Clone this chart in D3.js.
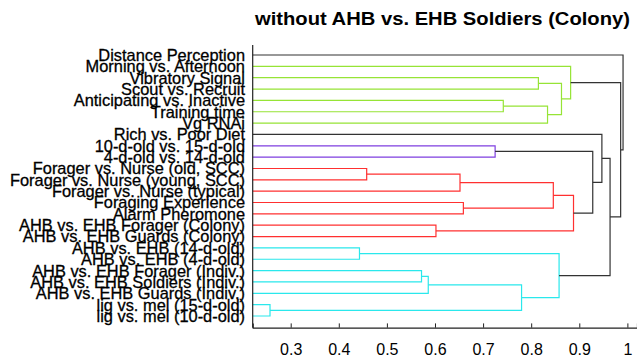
<!DOCTYPE html>
<html>
<head>
<meta charset="utf-8">
<script src="https://cdn.jsdelivr.net/npm/d3@7"></script>
<style>
  body { margin: 0; background: #fff; }
  svg { display: block; }
  text { font-family: "Liberation Sans", Arial, sans-serif; }
</style>
</head>
<body>
<div id="chart"></div>
<script>
// leaves, top to bottom
var leaves = [
  "Distance Perception", "Morning vs. Afternoon", "Vibratory Signal", "Scout vs. Recruit",
  "Anticipating vs. Inactive", "Training time", "Vg RNAi", "Rich vs. Poor Diet",
  "10-d-old vs. 15-d-old", "4-d-old vs. 14-d-old", "Forager vs. Nurse (old, SCC)",
  "Forager vs. Nurse (young, SCC)", "Forager vs. Nurse (typical)", "Foraging Experience",
  "Alarm Pheromone", "AHB vs. EHB Forager (Colony)", "AHB vs. EHB Guards (Colony)",
  "AHB vs. EHB (14-d-old)", "AHB vs. EHB (4-d-old)", "AHB vs. EHB Forager (Indiv.)",
  "AHB vs. EHB Soldiers (Indiv.)", "AHB vs. EHB Guards (Indiv.)",
  "lig vs. mel (15-d-old)", "lig vs. mel (10-d-old)"
];

// merges: ids < 24 are leaves, "m3" means merge number 3
var merges = [
  [2, 3], [4, 5], ["m1", 6], ["m0", "m2"], [1, "m3"],
  [8, 9],
  [10, 11], ["m6", 12], [13, 14], ["m7", "m8"], [15, 16], ["m9", "m10"],
  [17, 18], [19, 20], ["m13", 21], [22, 23], ["m14", "m15"], ["m12", "m16"],
  ["m5", "m11"], [7, "m18"], ["m19", "m17"], ["m4", "m20"], [0, "m21"]
];
var heights = [
  0.815, 0.742, 0.834, 0.863, 0.882,
  0.725,
  0.458, 0.652, 0.659, 0.846, 0.602, 0.888,
  0.443, 0.572, 0.586, 0.257, 0.780, 0.858,
  0.928, 0.947, 0.964, 0.986, 0.991
];
var groups = [
  "g", "g", "g", "g", "g",
  "p",
  "r", "r", "r", "r", "r", "r",
  "c", "c", "c", "c", "c", "c",
  "k", "k", "k", "k", "k"
];
var xTicks = [0.3, 0.4, 0.5, 0.6, 0.7, 0.8, 0.9, 1];

var colors = { g: "#96e436", p: "#7f3fe0", r: "#ff3030", c: "#2ae8ec", k: "#333333" };

var svgWidth = 637;
var svgHeight = 360;
var margin = { top: 45, right: 0, bottom: 32.3, left: 252.7 };

var svg = d3.select("#chart")
  .append("svg")
  .attr("width", svgWidth)
  .attr("height", svgHeight);

var x = d3.scaleLinear().domain([0.221, 1.02]).range([margin.left, svgWidth - margin.right]);
var y = d3.scaleLinear().domain([0.12, 25.03]).range([margin.top, svgHeight - margin.bottom]);

// node positions
var pos = {};
leaves.forEach(function(d, i) { pos[i] = { x: x.domain()[0], y: i + 1 }; });
merges.forEach(function(m, i) {
  var a = pos[m[0]], b = pos[m[1]];
  pos["m" + i] = { x: heights[i], y: (a.y + b.y) / 2 };
});

// links
var linkG = svg.append("g").attr("fill", "none").attr("stroke-width", 1.2);
merges.forEach(function(m, i) {
  var a = pos[m[0]], b = pos[m[1]], h = heights[i];
  var p = d3.path();
  p.moveTo(x(a.x), y(a.y));
  p.lineTo(x(h), y(a.y));
  p.lineTo(x(h), y(b.y));
  p.lineTo(x(b.x), y(b.y));
  linkG.append("path")
    .attr("d", p.toString())
    .attr("stroke", colors[groups[i]]);
});

// axes
svg.append("line")
  .attr("x1", margin.left).attr("x2", margin.left)
  .attr("y1", margin.top).attr("y2", svgHeight - margin.bottom)
  .attr("stroke", "#222").attr("stroke-width", 1.2);

var xAxis = svg.append("g")
  .attr("transform", "translate(0," + (svgHeight - margin.bottom) + ")")
  .call(d3.axisBottom(x).tickValues(xTicks).tickSize(-4.3).tickPadding(16)
    .tickFormat(function(d) { return d === 1 ? "1" : d3.format(".1f")(d); }));
xAxis.select(".domain").attr("stroke", "#222").attr("stroke-width", 1.2);
xAxis.selectAll(".tick line").attr("stroke", "#222");
xAxis.selectAll("text")
  .attr("font-size", 16)
  .attr("font-family", "'Liberation Sans', Arial, sans-serif")
  .attr("fill", "#000");

// leaf labels
svg.append("g")
  .selectAll("text")
  .data(leaves)
  .enter()
  .append("text")
  .attr("x", 245)
  .attr("y", function(d, i) { return y(i + 1); })
  .attr("dy", "0.36em")
  .attr("text-anchor", "end")
  .attr("font-size", 16.4)
  .attr("fill", "#000")
  .attr("stroke", "#000")
  .attr("stroke-width", 0.3)
  .text(function(d) { return d; });

// title
svg.append("text")
  .attr("x", 442.5)
  .attr("y", 25)
  .attr("text-anchor", "middle")
  .attr("font-size", 18)
  .attr("font-weight", "bold")
  .attr("fill", "#000")
  .attr("textLength", 375)
  .attr("lengthAdjust", "spacingAndGlyphs")
  .text("without AHB vs. EHB Soldiers (Colony)");
</script>
</body>
</html>
